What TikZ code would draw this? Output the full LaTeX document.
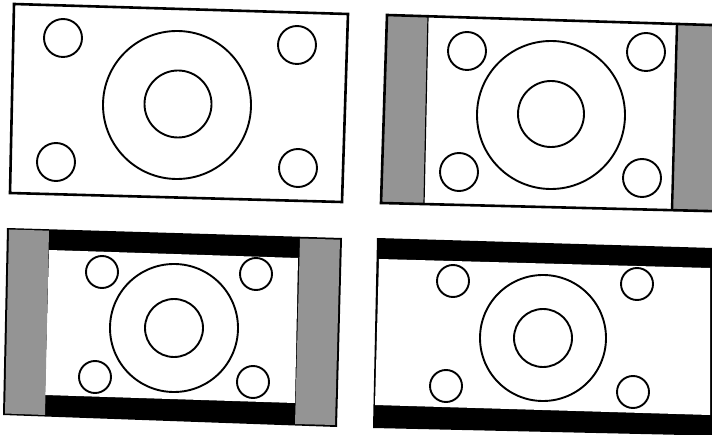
\documentclass[tikz,border=0pt]{standalone}
\definecolor{bandgray}{gray}{0.58}
\begin{document}
\begin{tikzpicture}[x=1pt,y=-1pt,
  frame/.style={draw=black,line width=2.6pt,line join=miter},
  ring/.style={draw=black,line width=1.9pt},
  band/.style={fill=bandgray},
  bar/.style={fill=black}]
\useasboundingbox (0,0) rectangle (712,435);
\clip (0,0) rectangle (712,435);
\fill[white] (0,0) rectangle (712,435);

% ---------- panel 1 ----------
\draw[frame,fill=white] (14,4) -- (348,14) -- (342,202) -- (10,193) -- cycle;
\draw[ring] (63,38) circle (19pt);
\draw[ring] (297,45) circle (19pt);
\draw[ring] (56,162) circle (19pt);
\draw[ring] (298,168) circle (19pt);
\draw[ring] (177,105) circle (74pt);
\draw[ring] (178,104) circle (33.5pt);

% ---------- panel 2 ----------
\fill[white] (387,15) -- (730,25.6) -- (730,211.6) -- (381,203) -- cycle;
\fill[band] (387,15) -- (428,16.3) -- (424,204) -- (381,203) -- cycle;
\fill[band] (677,24) -- (730,25.6) -- (730,211.6) -- (672,210) -- cycle;
\draw[frame] (387,15) -- (730,25.6) -- (730,211.6) -- (381,203) -- cycle;
\draw[black,line width=1.2pt] (428,16.3) -- (424,204);
\draw[black,line width=2.4pt] (677,24) -- (672,210);
\draw[ring] (467,51) circle (19pt);
\draw[ring] (646,52) circle (19pt);
\draw[ring] (459,172) circle (19pt);
\draw[ring] (642,178) circle (19pt);
\draw[ring] (551,115) circle (74pt);
\draw[ring] (551,114) circle (33pt);

% ---------- panel 3 ----------
\fill[bar] (7,228) -- (342,238) -- (337,427) -- (3,415) -- cycle;
\fill[white] (49,250) -- (298,258) -- (295,403) -- (45,395) -- cycle;
\fill[band] (9,229.5) -- (49,230.7) -- (45,415) -- (5,413.5) -- cycle;
\fill[band] (300,238.5) -- (340,239.7) -- (335,425) -- (295,424) -- cycle;
\draw[ring] (102,272) circle (16pt);
\draw[ring] (256,274) circle (16pt);
\draw[ring] (95,377) circle (16pt);
\draw[ring] (253,382) circle (16pt);
\draw[ring] (174,328) circle (64pt);
\draw[ring] (174,328) circle (29pt);

% ---------- panel 4 ----------
\fill[bar] (377,238) -- (730,248.5) -- (730,436) -- (373,428) -- cycle;
\fill[white] (379,259) -- (710,268) -- (710,415) -- (375,405) -- cycle;
\draw[ring] (453,281) circle (16pt);
\draw[ring] (637,284) circle (16pt);
\draw[ring] (446,386) circle (16pt);
\draw[ring] (633,392) circle (16pt);
\draw[ring] (543,338) circle (63pt);
\draw[ring] (543,338) circle (29pt);
\end{tikzpicture}
\end{document}
